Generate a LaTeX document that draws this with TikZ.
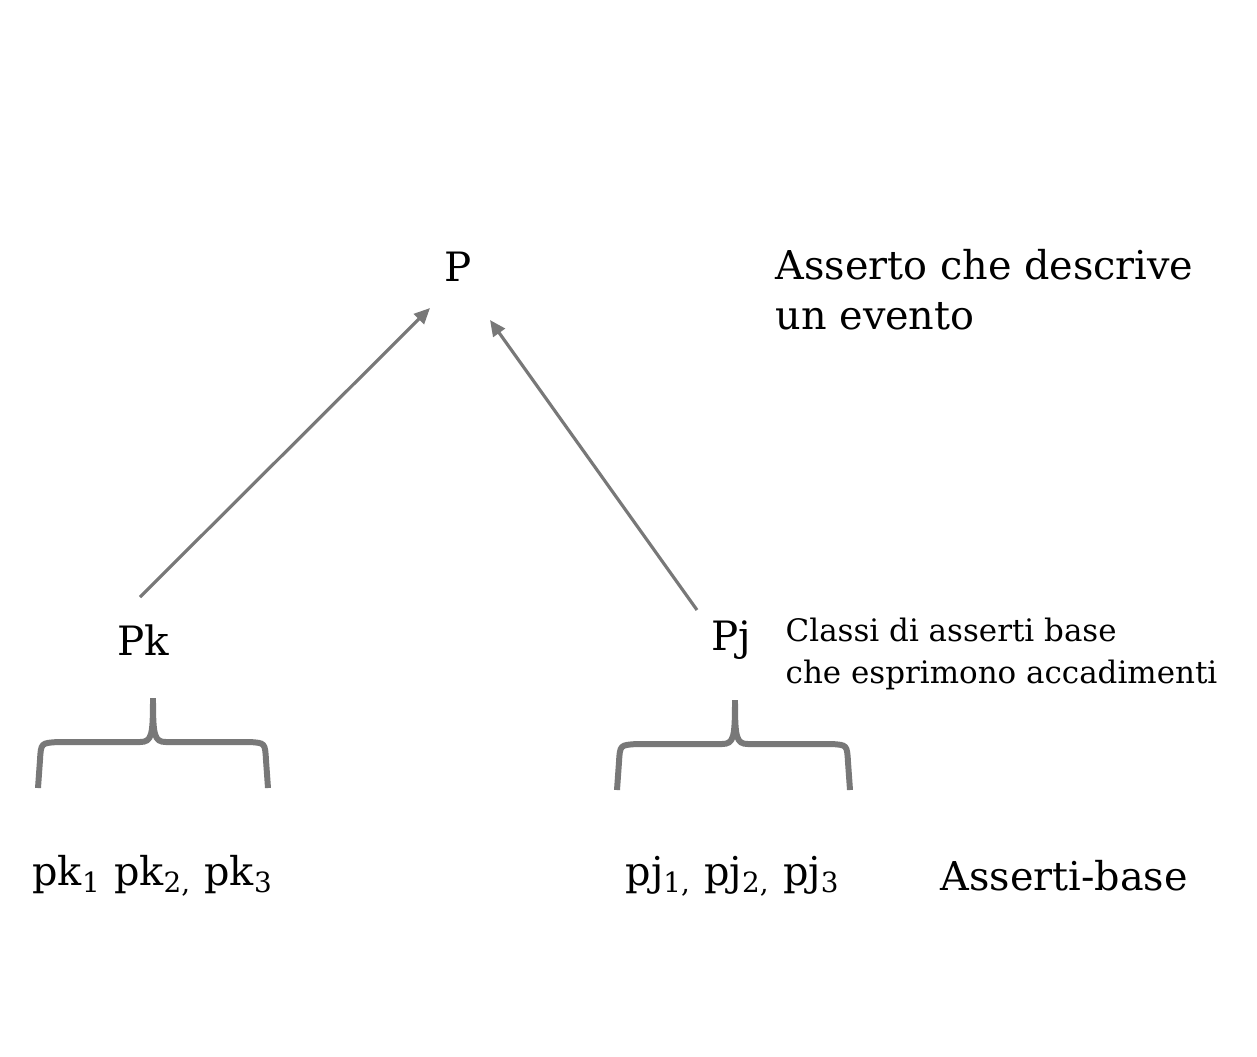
\documentclass[tikz,border=0pt]{standalone}
\usepackage{fontspec}
\setmainfont{DejaVu Serif}
\usetikzlibrary{arrows.meta}
\definecolor{lgray}{RGB}{120,120,120}

\begin{document}
\begin{tikzpicture}[x=0.01cm,y=-0.01cm,
  arr/.style={draw,lgray,line width=0.9pt,-{Triangle[length=4.5pt,width=4pt]}},
  brc/.style={draw,lgray,line width=1.7pt},
  lbl/.style={font=\fontsize{11.5}{14}\selectfont,inner sep=0pt},
  big/.style={font=\fontsize{11.3}{14.2}\selectfont,align=left,inner sep=0pt},
  small/.style={font=\fontsize{8.8}{11.7}\selectfont,align=left,inner sep=0pt}]
\useasboundingbox (0,0) rectangle (1257,1056);
% top
\node[lbl] (P) at (458,267) {P};
\node[big,anchor=west] (ev) at (775,290) {Asserto che descrive\\un evento};
% classes
\node[lbl] (Pk) at (143,640) {Pk};
\node[lbl] (Pj) at (731,640) {Pj};
\node[small,anchor=west] (cl) at (785,654) {Classi di asserti base\\che esprimono accadimenti};
\path[arr] ([shift={(-3,-43)}]Pk.center) -- ([shift={(-28,41)}]P.center);
\path[arr] ([shift={(-34,-30)}]Pj.center) -- ([shift={(32,53)}]P.center);
% braces
\path[brc] (38,788) -- (40,760) .. controls (41,743) .. (58,742) -- (140,742)
  .. controls (152,742) and (153,735) .. (153,698)
  .. controls (153,735) and (154,742) .. (166,742) -- (250,742)
  .. controls (265,743) .. (266,760) -- (268,788);
\path[brc] (617,790) -- (619,762) .. controls (620,745) .. (637,744) -- (722,744)
  .. controls (734,744) and (735,737) .. (735,700)
  .. controls (735,737) and (736,744) .. (748,744) -- (832,744)
  .. controls (847,745) .. (848,762) -- (850,790);
% base
\node[big] (pk) at (153,876) {pk\textsubscript{1} pk\textsubscript{2,} pk\textsubscript{3}};
\node[big] (pj) at (733,876) {pj\textsubscript{1,} pj\textsubscript{2,} pj\textsubscript{3}};
\node[big,anchor=west] (ab) at (940,876) {Asserti-base};
\end{tikzpicture}
\end{document}
